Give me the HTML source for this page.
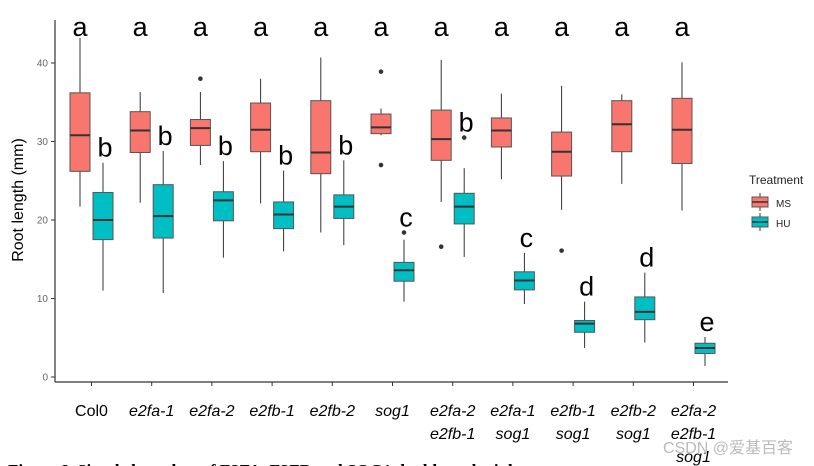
<!DOCTYPE html>
<html><head><meta charset="utf-8"><style>
body{margin:0;background:#fff;width:814px;height:466px;overflow:hidden}
svg{display:block;font-family:"Liberation Sans","Noto Sans CJK SC",sans-serif}
</style></head><body>
<svg id="chart" width="814" height="466">
<rect width="814" height="466" fill="#fff"/>
</svg>
<script>
const categories=[["Col0"],["e2fa-1"],["e2fa-2"],["e2fb-1"],["e2fb-2"],["sog1"],["e2fa-2","e2fb-1"],["e2fa-1","sog1"],["e2fb-1","sog1"],["e2fb-2","sog1"],["e2fa-2","e2fb-1","sog1"]];
// [low, q1, median, q3, high]
const msStats=[[21.7,26.2,30.8,36.2,43.2],[22.2,28.6,31.4,33.8,36.3],[27.0,29.5,31.7,32.8,36.3],[22.1,28.7,31.5,34.9,38.0],[18.4,25.9,28.6,35.2,40.7],[30.8,31.0,31.8,33.5,34.2],[22.3,27.6,30.3,34.0,40.4],[25.2,29.3,31.4,33.0,36.1],[21.3,25.6,28.7,31.2,37.1],[24.6,28.7,32.2,35.2,36.0],[21.2,27.2,31.5,35.5,40.1]];
const huStats=[[11.0,17.5,20.0,23.5,27.3],[10.7,17.7,20.5,24.5,28.8],[15.2,19.9,22.5,23.6,27.5],[16.0,18.9,20.7,22.3,26.3],[16.8,20.2,21.7,23.2,27.6],[9.6,12.2,13.6,14.6,17.5],[15.3,19.5,21.7,23.4,26.6],[9.3,11.1,12.3,13.4,15.8],[3.7,5.7,6.8,7.2,9.6],[4.4,7.3,8.3,10.2,13.3],[1.4,3.0,3.7,4.3,5.1]];
const msOutliers=[[],[],[38.0],[],[],[38.9,27.0],[16.6],[],[16.1],[],[]];
const huOutliers=[[],[],[],[],[],[18.4],[30.5],[],[],[],[]];
const msLetters=["a","a","a","a","a","a","a","a","a","a","a"];
const huLetters=["b","b","b","b","b","c","b","c","d","d","e"];
const yTicks=[0,10,20,30,40];

const NS="http://www.w3.org/2000/svg";
const svg=document.getElementById("chart");
function el(t,a,p){const e=document.createElementNS(NS,t);for(const k in a)e.setAttribute(k,a[k]);(p||svg).appendChild(e);return e;}
const y=v=>377-7.85*v;
const x=i=>91.5+i*60.2;
const BW=20, OFF=11.5;

const ax=el("line",{x1:55,y1:20,x2:55,y2:382,stroke:"#333","stroke-width":1.2});


const bx=el("line",{x1:55,y1:382,x2:728,y2:382,stroke:"#333","stroke-width":1.2});


yTicks.forEach(t=>{
  const l=el("line",{x1:51,x2:55,y1:y(t),y2:y(t),stroke:"#333"});
  
  
  const tx=el("text",{x:48,y:y(t)+3.5,"text-anchor":"end","font-size":10,fill:"#666"});
  tx.textContent=t;
  
  
});
const yl=el("text",{x:0,y:0,"font-size":16,fill:"#000","text-anchor":"middle",transform:"translate(23,200) rotate(-90)"});
yl.textContent="Root length (mm)";



function drawBox(s,cx,fill,outs,name){
  const g=el("g",{});
  
  
  el("line",{x1:cx,x2:cx,y1:y(s[4]),y2:y(s[0]),stroke:"#333","stroke-width":1},g);
  el("rect",{x:cx-BW/2,y:y(s[3]),width:BW,height:y(s[1])-y(s[3]),fill:fill,stroke:"#555","stroke-width":1},g);
  el("line",{x1:cx-BW/2,x2:cx+BW/2,y1:y(s[2]),y2:y(s[2]),stroke:"#333","stroke-width":2},g);
  outs.forEach(o=>el("circle",{cx:cx,cy:y(o),r:2.3,fill:"#333"},g));
}
categories.forEach((c,i)=>{
  const cx=x(i);
  const tk=el("line",{x1:cx,x2:cx,y1:382,y2:386,stroke:"#333"});
  
  
  drawBox(msStats[i],cx-OFF,"#F8766D",msOutliers[i],"ms-box-"+i);
  drawBox(huStats[i],cx+OFF,"#00BFC4",huOutliers[i],"hu-box-"+i);
  const a=el("text",{x:cx-OFF,y:36,"text-anchor":"middle","font-size":27,fill:"#000"});
  a.textContent=msLetters[i];
  
  
  const topHu=Math.max(huStats[i][4],...huOutliers[i]);
  const b=el("text",{x:cx+OFF+2,y:y(topHu)-6,"text-anchor":"middle","font-size":27,fill:"#000"});
  b.textContent=huLetters[i];
  
  
  c.forEach((line,j)=>{
    const t=el("text",{x:cx,y:416+j*23,"text-anchor":"middle","font-size":16,fill:"#000","font-style":i==0?"normal":"italic"});
    t.textContent=line;
    
    
  });
});
</script>
<svg style="position:absolute;left:0;top:0" width="814" height="466">
<g font-family="Liberation Sans, sans-serif">
<text x="749" y="184" font-size="12" fill="#222">Treatment</text>
<g>
<line x1="760" x2="760" y1="193" y2="211" stroke="#333"/>
<rect x="752" y="197" width="16" height="10" fill="#F8766D" stroke="#555"/>
<line x1="752" x2="768" y1="202" y2="202" stroke="#333" stroke-width="1.5"/>
<text x="776" y="207" font-size="10" fill="#222">MS</text></g>
<g>
<line x1="760" x2="760" y1="213" y2="231" stroke="#333"/>
<rect x="752" y="217" width="16" height="10" fill="#00BFC4" stroke="#555"/>
<line x1="752" x2="768" y1="222" y2="222" stroke="#333" stroke-width="1.5"/>
<text x="776" y="227" font-size="10" fill="#222">HU</text></g>
</g>
<text x="663" y="453" font-size="16" fill="#bbb" font-family="Liberation Sans, Noto Sans CJK SC, sans-serif">CSDN @爱基百客</text>
<text x="8" y="476" font-size="17" font-weight="bold" font-family="Liberation Serif, serif" fill="#000">Figure 6. Simple box plots of E2FA, E2FB and SOG1 double and triple mutants</text>
</svg>
</body></html>
